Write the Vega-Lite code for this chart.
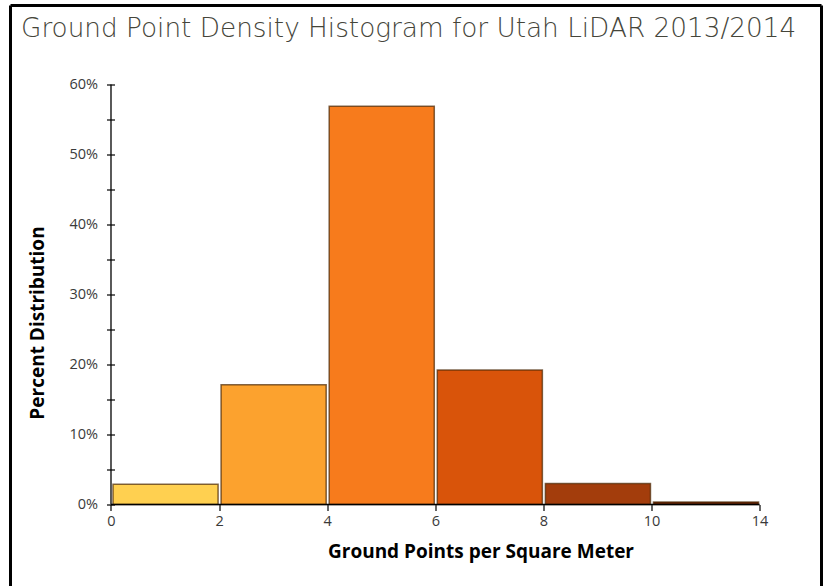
{
  "$schema": "https://vega.github.io/schema/vega-lite/v6.json",
  "width": 811,
  "height": 581,
  "padding": {"left": 8.5, "top": 3.5, "right": 0, "bottom": 0},
  "autosize": {"type": "pad"},
  "background": "white",
  "config": {"view": {"stroke": null}, "font": "Open Sans"},
  "title": {
    "text": "Ground Point Density Histogram for Utah LiDAR 2013/2014",
    "anchor": "start",
    "offset": -38,
    "dx": 12,
    "fontSize": 26.3,
    "fontWeight": 200,
    "color": "#45453a",
    "font": "DejaVu Sans"
  },
  "datasets": {
    "bins": [
      {"start": 0, "end": 1, "lo": 0, "hi": 2, "percent": 2.9},
      {"start": 1, "end": 2, "lo": 2, "hi": 4, "percent": 17.1},
      {"start": 2, "end": 3, "lo": 4, "hi": 6, "percent": 56.9},
      {"start": 3, "end": 4, "lo": 6, "hi": 8, "percent": 19.2},
      {"start": 4, "end": 5, "lo": 8, "hi": 10, "percent": 3.0},
      {"start": 5, "end": 6, "lo": 10, "hi": 14, "percent": 0.35}
    ]
  },
  "layer": [
    {
      "data": {"name": "bins"},
      "mark": {"type": "bar", "binSpacing": 3, "stroke": "#4a2806", "strokeWidth": 1.5, "strokeOpacity": 0.7},
      "encoding": {
        "x": {
          "field": "start",
          "type": "quantitative",
          "bin": {"binned": true},
          "scale": {"domain": [-0.9297, 6.573], "nice": false, "zero": false},
          "axis": {
            "values": [0, 1, 2, 3, 4, 5, 6],
            "labelExpr": "['0','2','4','6','8','10','14'][datum.value]",
            "offset": -82,
            "domain": false,
            "grid": false,
            "tickSize": 6,
            "tickColor": "black",
            "tickWidth": 1.2,
            "labelPadding": 4,
            "labelFontSize": 14.5,
            "labelColor": "#3a3a3a",
            "labelFont": "Open Sans",
            "title": "Ground Points per Square Meter",
            "titleFont": "Open Sans",
            "titleFontSize": 19,
            "titleFontWeight": "bold",
            "titleColor": "black",
            "titleX": 470,
            "titleY": 47,
            "titleBaseline": "middle",
            "titleAlign": "center"
          }
        },
        "x2": {"field": "end"},
        "y": {
          "field": "percent",
          "type": "quantitative",
          "scale": {"domain": [-11.714, 71.286], "nice": false, "zero": false},
          "axis": {
            "values": [0, 5, 10, 15, 20, 25, 30, 35, 40, 45, 50, 55, 60],
            "labelExpr": "datum.value % 10 === 0 ? datum.value + '%' : ''",
            "offset": -104,
            "domain": false,
            "grid": false,
            "tickSize": 8,
            "tickColor": "black",
            "tickWidth": 1.2,
            "labelPadding": 9,
            "labelFontSize": 14.5,
            "labelColor": "#3a3a3a",
            "labelFont": "Open Sans",
            "title": "Percent Distribution",
            "titleFont": "Open Sans",
            "titleFontSize": 19,
            "titleFontWeight": "bold",
            "titleColor": "black",
            "titleX": -77,
            "titleY": 317,
            "titleAngle": 270,
            "titleBaseline": "middle",
            "titleAlign": "center"
          }
        },
        "y2": {"datum": 0},
        "color": {
          "field": "lo",
          "type": "nominal",
          "scale": {
            "domain": [0, 2, 4, 6, 8, 10],
            "range": ["#FFD050", "#FCA22E", "#F77B1C", "#D9540A", "#A33D0C", "#6B2304"]
          },
          "legend": null
        }
      }
    },
    {
      "data": {"values": [{}]},
      "mark": {"type": "rule", "color": "black", "strokeWidth": 1.3},
      "encoding": {
        "x": {"datum": 0, "type": "quantitative"},
        "y": {"datum": 0, "type": "quantitative"},
        "y2": {"datum": 60}
      }
    },
    {
      "data": {"values": [{}]},
      "mark": {"type": "rule", "color": "black", "strokeWidth": 1.3},
      "encoding": {
        "x": {"datum": 0, "type": "quantitative"},
        "x2": {"datum": 6},
        "y": {"datum": 0, "type": "quantitative"}
      }
    },
    {
      "data": {"values": [{}]},
      "mark": {"type": "rule", "color": "black", "strokeWidth": 3},
      "encoding": {
        "x": {"datum": -0.9297, "type": "quantitative"},
        "y": {"datum": -11.714, "type": "quantitative"},
        "y2": {"datum": 71.286}
      }
    },
    {
      "data": {"values": [{}]},
      "mark": {"type": "rule", "color": "black", "strokeWidth": 3},
      "encoding": {
        "x": {"datum": 6.573, "type": "quantitative"},
        "y": {"datum": -11.714, "type": "quantitative"},
        "y2": {"datum": 71.286}
      }
    },
    {
      "data": {"values": [{}]},
      "mark": {"type": "rule", "color": "black", "strokeWidth": 3},
      "encoding": {
        "x": {"datum": -0.9297, "type": "quantitative"},
        "x2": {"datum": 6.573},
        "y": {"datum": 71.286, "type": "quantitative"}
      }
    }
  ]
}
